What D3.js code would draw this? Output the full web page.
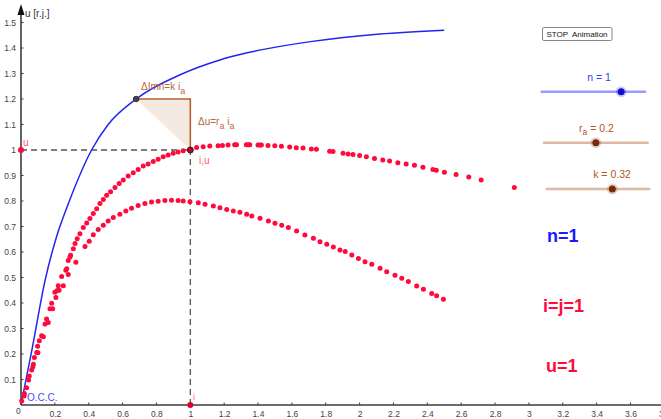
<!DOCTYPE html>
<html><head><meta charset="utf-8">
<script src="https://cdn.jsdelivr.net/npm/d3@7"></script>
<style>
html,body{margin:0;padding:0;background:#fff;}
svg{display:block;font-family:"Liberation Sans",Arial,sans-serif;}
</style></head>
<body><svg id="c" width="661" height="419"></svg>
<script>
// ---- data ----
const xTicks = [0.2,0.4,0.6,0.8,1,1.2,1.4,1.6,1.8,2,2.2,2.4,2.6,2.8,3,3.2,3.4,3.6,3.8];
const yTicks = [0.1,0.2,0.3,0.4,0.5,0.6,0.7,0.8,0.9,1,1.1,1.2,1.3,1.4,1.5];
// open-circuit characteristic (i, u)
const occCurve = [[0,0],[0.067,0.225],[0.142,0.488],[0.21,0.66],[0.28,0.79],[0.417,1.0],[0.515,1.1],[0.68,1.2],[0.94,1.295],[1.17,1.352],[1.33,1.38],[1.72,1.426],[2.12,1.455],[2.5,1.47]];
// traced points, upper characteristic
const traceUpper = [[0.004,0.016],[0.018,0.035],[0.033,0.068],[0.049,0.114],[0.063,0.137],[0.073,0.160],[0.079,0.186],[0.093,0.206],[0.098,0.230],[0.108,0.252],[0.122,0.272],[0.142,0.318],[0.151,0.337],[0.171,0.377],[0.181,0.399],[0.200,0.442],[0.214,0.449],[0.220,0.468],[0.240,0.504],[0.265,0.528],[0.270,0.534],[0.279,0.567],[0.289,0.580],[0.293,0.587],[0.309,0.613],[0.319,0.633],[0.332,0.652],[0.348,0.672],[0.368,0.696],[0.388,0.714],[0.407,0.731],[0.427,0.751],[0.447,0.770],[0.466,0.790],[0.486,0.806],[0.506,0.823],[0.529,0.836],[0.555,0.853],[0.580,0.869],[0.604,0.882],[0.633,0.898],[0.663,0.911],[0.692,0.924],[0.722,0.937],[0.751,0.945],[0.781,0.955],[0.810,0.964],[0.840,0.974],[0.869,0.980],[0.899,0.987],[0.928,0.992],[0.958,0.997],[1.037,1.010],[1.076,1.013],[1.115,1.016],[1.164,1.017],[1.190,1.018],[1.223,1.020],[1.262,1.021],[1.273,1.021],[1.331,1.021],[1.341,1.021],[1.351,1.021],[1.400,1.020],[1.410,1.020],[1.420,1.020],[1.459,1.018],[1.499,1.017],[1.538,1.015],[1.587,1.012],[1.626,1.009],[1.666,1.008],[1.715,1.004],[1.745,1.003],[1.823,0.995],[1.843,0.994],[1.902,0.987],[1.932,0.984],[1.961,0.982],[2.000,0.978],[2.040,0.974],[2.088,0.967],[2.137,0.961],[2.177,0.957],[2.226,0.950],[2.275,0.945],[2.324,0.940],[2.374,0.932],[2.433,0.924],[2.453,0.921],[2.501,0.913],[2.570,0.904],[2.645,0.894],[2.718,0.882],[2.914,0.853]];
// traced points, lower characteristic
const traceLower = [[0.020,0.045],[0.045,0.098],[0.070,0.150],[0.100,0.205],[0.132,0.268],[0.161,0.324],[0.187,0.377],[0.206,0.422],[0.225,0.450],[0.250,0.468],[0.279,0.512],[0.324,0.560],[0.378,0.622],[0.403,0.642],[0.427,0.668],[0.456,0.688],[0.486,0.705],[0.515,0.722],[0.545,0.735],[0.584,0.748],[0.619,0.761],[0.653,0.772],[0.692,0.782],[0.732,0.790],[0.771,0.796],[0.810,0.799],[0.850,0.802],[0.889,0.803],[0.928,0.802],[0.958,0.800],[0.998,0.797],[1.047,0.793],[1.087,0.787],[1.136,0.780],[1.175,0.774],[1.215,0.767],[1.254,0.761],[1.293,0.756],[1.333,0.748],[1.363,0.741],[1.412,0.732],[1.461,0.722],[1.500,0.713],[1.540,0.705],[1.579,0.696],[1.628,0.682],[1.677,0.667],[1.727,0.654],[1.766,0.640],[1.806,0.630],[1.845,0.620],[1.884,0.608],[1.915,0.602],[1.954,0.588],[1.993,0.575],[2.032,0.562],[2.072,0.552],[2.121,0.536],[2.160,0.523],[2.209,0.509],[2.249,0.497],[2.288,0.484],[2.337,0.467],[2.377,0.454],[2.426,0.437],[2.455,0.428],[2.495,0.415]];
// working point and triangle
const workPoint = [1, 1];
const triangle = [[0.68,1.2],[1,1.2],[1,1]];
// sliders: label, value, min, max
const sliderNames = ["n","r_a","k"];
const sliderValues = [1, 0.2, 0.32];
const sliderMins = [0, 0, 0];
const sliderMaxs = [1.3, 0.4, 0.5];

// ---- drawing ----
const svg = d3.select("#c");
const x = d3.scaleLinear().domain([0,1]).range([21,190.3]);
const y = d3.scaleLinear().domain([0,1]).range([405,150]);
const RED = "#ff0a3c", BLUE = "#2424f0", BROWN = "#b5602a", AX = "#3c3c3c";

// axes
const fmt = d => String(+d.toFixed(1));
const gx = svg.append("g").attr("transform",`translate(0,${y(0)})`)
  .call(d3.axisBottom(x).tickValues(xTicks).tickFormat(fmt).tickSize(0).tickPadding(6));
gx.select(".domain").remove();
gx.selectAll("text").attr("font-size","8.5px").attr("fill","#444").attr("font-family","Liberation Sans, Arial, sans-serif");
svg.append("line").attr("x1",x(0)).attr("x2",661).attr("y1",y(0)).attr("y2",y(0)).attr("stroke",AX).attr("stroke-width",1.6);
svg.append("g").selectAll("line").data(xTicks).join("line")
  .attr("x1",d=>x(d)).attr("x2",d=>x(d)).attr("y1",y(0)-2.5).attr("y2",y(0)).attr("stroke",AX).attr("stroke-width",1);

const gy = svg.append("g").attr("transform",`translate(${x(0)},0)`)
  .call(d3.axisLeft(y).tickValues(yTicks).tickFormat(fmt).tickSize(0).tickPadding(5));
gy.select(".domain").remove();
gy.selectAll("text").attr("font-size","8.5px").attr("fill","#444").attr("font-family","Liberation Sans, Arial, sans-serif");
svg.append("line").attr("x1",x(0)).attr("x2",x(0)).attr("y1",y(0)).attr("y2",9).attr("stroke",AX).attr("stroke-width",1.6);
svg.append("g").selectAll("line").data(yTicks).join("line")
  .attr("x1",x(0)).attr("x2",x(0)+2.5).attr("y1",d=>y(d)).attr("y2",d=>y(d)).attr("stroke",AX).attr("stroke-width",1);
svg.append("path").attr("d",`M${x(0)-3.5},${15} L${x(0)},${4} L${x(0)+3.5},${15} Z`).attr("fill","#111");
svg.append("text").attr("x",x(0)-5).attr("y",y(0)+9).attr("font-size","8.5px").attr("fill","#444").text("0");
svg.append("text").attr("x",25).attr("y",17).attr("font-size","10px").attr("fill","#333").text("u [r.j.]");

// dashed guides
svg.append("line").attr("x1",x(0)).attr("x2",x(workPoint[0])).attr("y1",y(workPoint[1])).attr("y2",y(workPoint[1]))
  .attr("stroke","#555").attr("stroke-width",1.3).attr("stroke-dasharray","6,4");
svg.append("line").attr("x1",x(workPoint[0])).attr("x2",x(workPoint[0])).attr("y1",y(0)).attr("y2",y(workPoint[1]))
  .attr("stroke","#555").attr("stroke-width",1.3).attr("stroke-dasharray","6,4");

// triangle
svg.append("path").attr("d",d3.line().x(d=>x(d[0])).y(d=>y(d[1]))(triangle)+"Z")
  .attr("fill","#c8966e").attr("fill-opacity",0.2).attr("stroke","none");
svg.append("path").attr("d",d3.line().x(d=>x(d[0])).y(d=>y(d[1]))(triangle))
  .attr("fill","none").attr("stroke",BROWN).attr("stroke-width",1.6);

// OCC curve
svg.append("path").datum(occCurve)
  .attr("d",d3.line().x(d=>x(d[0])).y(d=>y(d[1])).curve(d3.curveMonotoneX))
  .attr("fill","none").attr("stroke",BLUE).attr("stroke-width",1.5);

// traced dots
svg.append("g").selectAll("circle").data(traceUpper.concat(traceLower)).join("circle")
  .attr("cx",d=>x(d[0])).attr("cy",d=>y(d[1])).attr("r",2.5).attr("fill",RED);

// special points
svg.append("circle").attr("cx",x(triangle[0][0])).attr("cy",y(triangle[0][1])).attr("r",2.8).attr("fill","#444").attr("stroke","#222").attr("stroke-width",0.8);
svg.append("circle").attr("cx",x(workPoint[0])).attr("cy",y(workPoint[1])).attr("r",3).attr("fill","#c00020").attr("stroke","#222").attr("stroke-width",1);
svg.append("circle").attr("cx",x(0)).attr("cy",y(workPoint[1])).attr("r",3).attr("fill",RED);
svg.append("circle").attr("cx",x(workPoint[0])).attr("cy",y(0)).attr("r",3).attr("fill","#e0002a");

// labels
svg.append("text").attr("x",23).attr("y",146).attr("font-size","10px").attr("fill","#ff5070").text("u");
svg.append("text").attr("x",199).attr("y",164).attr("font-size","10px").attr("fill","#ff5a78").text("i,u");
svg.append("text").attr("x",193).attr("y",400).attr("font-size","9px").attr("fill","#ff5a78").text("i");
svg.append("text").attr("x",27).attr("y",401).attr("font-size","10px").attr("fill","#4646ff").text("O.C.C.");
const t1 = svg.append("text").attr("x",141).attr("y",90).attr("font-size","10px").attr("fill","#b86a3a");
t1.append("tspan").text("ΔImn=k i");
t1.append("tspan").attr("dy",4).attr("font-size","9px").text("a");
const t2 = svg.append("text").attr("x",198).attr("y",125).attr("font-size","10px").attr("fill","#b86a3a");
t2.append("tspan").text("Δu=r");
t2.append("tspan").attr("dy",4).attr("font-size","9px").text("a");
t2.append("tspan").attr("dy",-4).text(" i");
t2.append("tspan").attr("dy",4).attr("font-size","9px").text("a");

// big labels
svg.append("text").attr("x",547).attr("y",242).attr("font-size","18px").attr("font-weight","bold").attr("fill","#1a1aff").text("n=1");
svg.append("text").attr("x",543).attr("y",312).attr("font-size","18px").attr("font-weight","bold").attr("fill",RED).text("i=j=1");
svg.append("text").attr("x",546).attr("y",372).attr("font-size","18px").attr("font-weight","bold").attr("fill",RED).text("u=1");

// STOP button
svg.append("rect").attr("x",542.5).attr("y",27.5).attr("width",69.5).attr("height",13).attr("rx",1.5)
  .attr("fill","#fff").attr("stroke","#888").attr("stroke-width",1);
svg.append("text").attr("x",577).attr("y",37).attr("text-anchor","middle").attr("font-size","8px").attr("fill","#111").attr("xml:space","preserve").text("STOP  Animation");

// sliders
const sliderGeom = [[541.7,645,91.7],[544,647.7,142.7],[546.7,649.3,189]];
const sliderLine = ["#9a9aff","#ddb9a3","#ddb9a3"];
const sliderKnob = ["#1010d0","#7a2a08","#7a2a08"];
const sliderText = ["#3a3aff","#b0582a","#b0582a"];
const sliderLabelX = [599, 596.5, 612];
sliderNames.forEach((nm,k)=>{
  const [x0,x1,yy] = sliderGeom[k];
  const s = d3.scaleLinear().domain([sliderMins[k],sliderMaxs[k]]).range([x0,x1]);
  svg.append("line").attr("x1",x0).attr("x2",x1).attr("y1",yy).attr("y2",yy).attr("stroke",sliderLine[k]).attr("stroke-width",2.5).attr("stroke-linecap","round");
  svg.append("circle").attr("cx",s(sliderValues[k])).attr("cy",yy).attr("r",5.5).attr("fill",sliderKnob[k]).attr("opacity",0.2);
  svg.append("circle").attr("cx",s(sliderValues[k])).attr("cy",yy).attr("r",3.5).attr("fill",sliderKnob[k]);
  const t = svg.append("text").attr("x",sliderLabelX[k]).attr("y",yy-11).attr("text-anchor","middle").attr("font-size","10.5px").attr("fill",sliderText[k]);
  if (nm === "r_a") {
    t.append("tspan").text("r");
    t.append("tspan").attr("dy",3).attr("font-size","8.5px").text("a");
    t.append("tspan").attr("dy",-3).text(" = " + sliderValues[k]);
  } else {
    t.text(nm + " = " + sliderValues[k]);
  }
});
</script></body></html>
